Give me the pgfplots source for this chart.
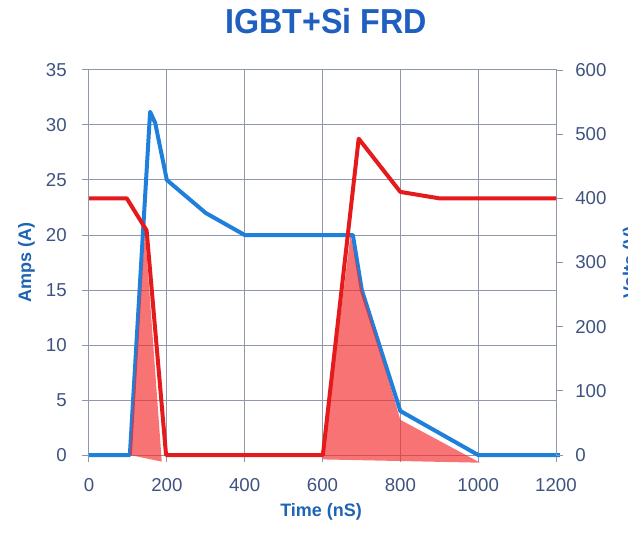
\documentclass[border=0pt]{standalone}
\usepackage{pgfplots}
\pgfplotsset{compat=1.18}
\usepackage{fontspec}
\setmainfont{Liberation Sans}
\usepackage{graphicx}
\definecolor{gridc}{HTML}{8F97AB}
\definecolor{tickc}{HTML}{3F5380}
\definecolor{labelc}{HTML}{1F63B5}
\definecolor{titlec}{HTML}{1E5FC0}
\definecolor{bluel}{HTML}{1F80DC}
\definecolor{redl}{HTML}{E41A1C}
\definecolor{redf}{HTML}{F52A2A}
\begin{document}
\begin{tikzpicture}
\pgfplotsset{
  every axis/.append style={
    scale only axis, width=350.25pt, height=288.75pt,
    xmin=0, xmax=1200,
    tick align=outside, major tick length=5.25pt,
    tick style={draw=gridc, line width=0.75pt},
    axis line style={draw=gridc, line width=0.75pt},
    /pgf/number format/assume math mode=true,
    /pgf/number format/set thousands separator={},
    tick label style={font=\fontsize{14}{16}\selectfont, text=tickc},
    clip=false,
  }
}
\begin{axis}[
  ymin=0, ymax=35, ytick={0,5,...,35}, xtick={0,200,...,1200},
  tick pos=left, grid=major, grid style={draw=gridc, line width=0.75pt},
  xticklabel style={anchor=north, inner sep=0pt},
  xticklabel shift=12pt,
  yticklabel style={anchor=east, inner sep=0pt},
  yticklabel shift=11.25pt,
  every axis title shift=0pt,
  title={\scalebox{0.93}[1]{IGBT+Si FRD}},
  title style={at={(axis description cs:0.5075,1.096)}, anchor=base, inner sep=0pt,
    font=\fontsize{26}{28}\selectfont\bfseries, text=titlec},
  xlabel={Time (nS)},
  xlabel style={at={(axis description cs:0.497,-0.160)}, anchor=base, inner sep=0pt,
    font=\fontsize{13.5}{15}\selectfont\bfseries, text=labelc},
  ylabel={Amps (A)},
  ylabel style={at={(axis description cs:-0.124,0.5)}, anchor=base, inner sep=0pt,
    font=\fontsize{13.5}{15}\selectfont\bfseries, text=labelc},
]
\addplot[bluel, line width=3pt, line join=round] coordinates {
  (0,0) (105,0) (157,31.2) (170,30.2) (200,25) (300,22) (400,20) (678,20) (701,15) (800,4) (1000,0) (1210,0)
};
\addplot[draw=none, fill=redf, fill opacity=0.65] coordinates {
  (105,0) (144,20.3) (187,-0.6)
};
\addplot[draw=none, fill=redf, fill opacity=0.65] coordinates {
  (600,-0.4) (672,20) (701,15) (800,3.2) (1005,-0.7)
};
\end{axis}
\begin{axis}[
  ymin=0, ymax=600, ytick={0,100,...,600},
  axis y line*=right, hide x axis,
  yticklabel style={anchor=west, inner sep=0pt},
  yticklabel shift=9pt,
  ylabel={Volts (V)},
  ylabel style={at={(axis description cs:1.171,0.5)}, anchor=base, inner sep=0pt,
    font=\fontsize{13.5}{15}\selectfont\bfseries, text=labelc},
]
\addplot[redl, line width=3pt, line join=round] coordinates {
  (0,400) (97,400) (148,350) (198,0) (601,0) (693,493) (800,410) (900,400) (1200,400)
};
\end{axis}
\pgfresetboundingbox
\useasboundingbox (-66.75pt,-57.75pt) rectangle (404.25pt,341.25pt);
\end{tikzpicture}
\end{document}
